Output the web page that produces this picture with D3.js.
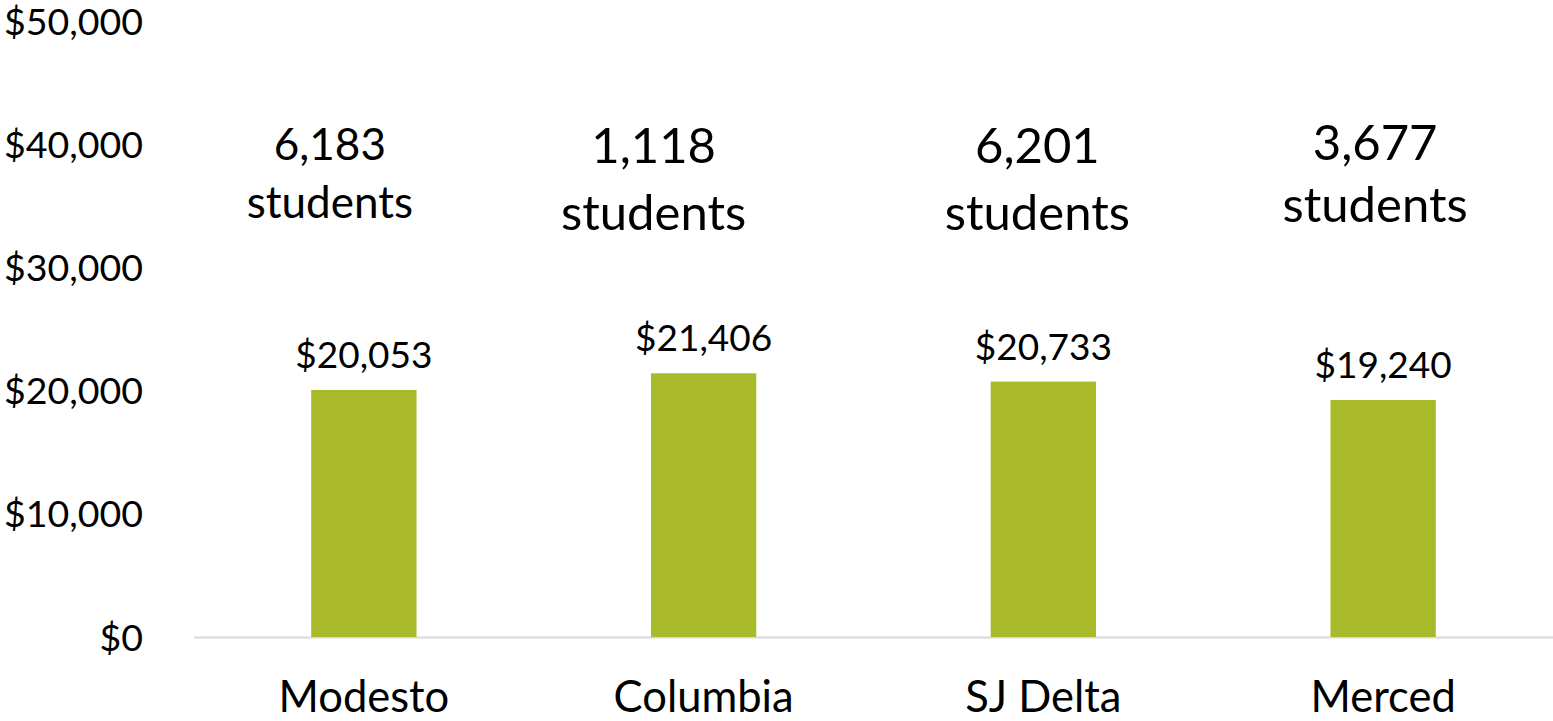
<!DOCTYPE html>
<html>
<head>
<meta charset="utf-8">
<script src="https://cdn.jsdelivr.net/npm/d3@7"></script>
<style>
  body { margin: 0; background: #fff; }
  text { font-family: Lato, "Open Sans", sans-serif; fill: #000; }
</style>
</head>
<body>
<div id="chart"></div>
<script>
var colleges = ["Modesto", "Columbia", "SJ Delta", "Merced"];
var costs = [20053, 21406, 20733, 19240];
var students = [6183, 1118, 6201, 3677];
var yTicks = [0, 10000, 20000, 30000, 40000, 50000];

var width = 1553, height = 721;

// annotation look, one per college (the first box is set smaller in the original)
var noteSize = [44, 49, 49, 49];
var noteShift = [-34, -50, -6, -8];
var noteTop = [160, 163, 163, 160];
var noteGap = [58, 67, 67, 62];

var svg = d3.select("#chart")
  .append("svg")
    .attr("width", width)
    .attr("height", height);

var x = d3.scaleBand()
  .domain(colleges)
  .range([194, 1553])
  .paddingInner(0.69)
  .paddingOuter(0.345);

var y = d3.scaleLinear()
  .domain([0, 50000])
  .range([637, 21]);

var money = d3.format("$,");

// y tick labels, no axis line
svg.append("g")
  .selectAll("text")
  .data(yTicks)
  .enter()
  .append("text")
    .attr("x", 143)
    .attr("y", function(d) { return y(d); })
    .attr("dy", "0.36em")
    .attr("text-anchor", "end")
    .style("font-size", "37.5px")
    .text(function(d) { return money(d); });

// baseline
svg.append("line")
  .attr("x1", 194)
  .attr("x2", 1553)
  .attr("y1", y(0) + 0.5)
  .attr("y2", y(0) + 0.5)
  .style("stroke", "#d9d9d9")
  .style("stroke-width", 2);

// bars
svg.append("g")
  .selectAll("rect")
  .data(costs)
  .enter()
  .append("rect")
    .attr("x", function(d, i) { return x(colleges[i]); })
    .attr("y", function(d) { return y(d); })
    .attr("width", x.bandwidth())
    .attr("height", function(d) { return y(0) - y(d); })
    .style("fill", "#a8b92a");

// value labels
svg.append("g")
  .selectAll("text")
  .data(costs)
  .enter()
  .append("text")
    .attr("x", function(d, i) { return x(colleges[i]) + x.bandwidth() / 2; })
    .attr("y", function(d) { return y(d) - 22; })
    .attr("text-anchor", "middle")
    .style("font-size", "37px")
    .text(function(d) { return money(d); });

// category labels
svg.append("g")
  .selectAll("text")
  .data(colleges)
  .enter()
  .append("text")
    .attr("x", function(d) { return x(d) + x.bandwidth() / 2; })
    .attr("y", 712)
    .attr("text-anchor", "middle")
    .style("font-size", "43.5px")
    .text(function(d) { return d; });

// student count notes
var notes = svg.append("g")
  .selectAll("text")
  .data(students)
  .enter()
  .append("text")
    .attr("text-anchor", "middle")
    .style("font-size", function(d, i) { return noteSize[i] + "px"; });

notes.append("tspan")
  .attr("x", function(d, i) { return x(colleges[i]) + x.bandwidth() / 2 + noteShift[i]; })
  .attr("y", function(d, i) { return noteTop[i]; })
  .text(function(d) { return d3.format(",")(d); });

notes.append("tspan")
  .attr("x", function(d, i) { return x(colleges[i]) + x.bandwidth() / 2 + noteShift[i]; })
  .attr("y", function(d, i) { return noteTop[i] + noteGap[i]; })
  .text("students");
</script>
</body>
</html>
